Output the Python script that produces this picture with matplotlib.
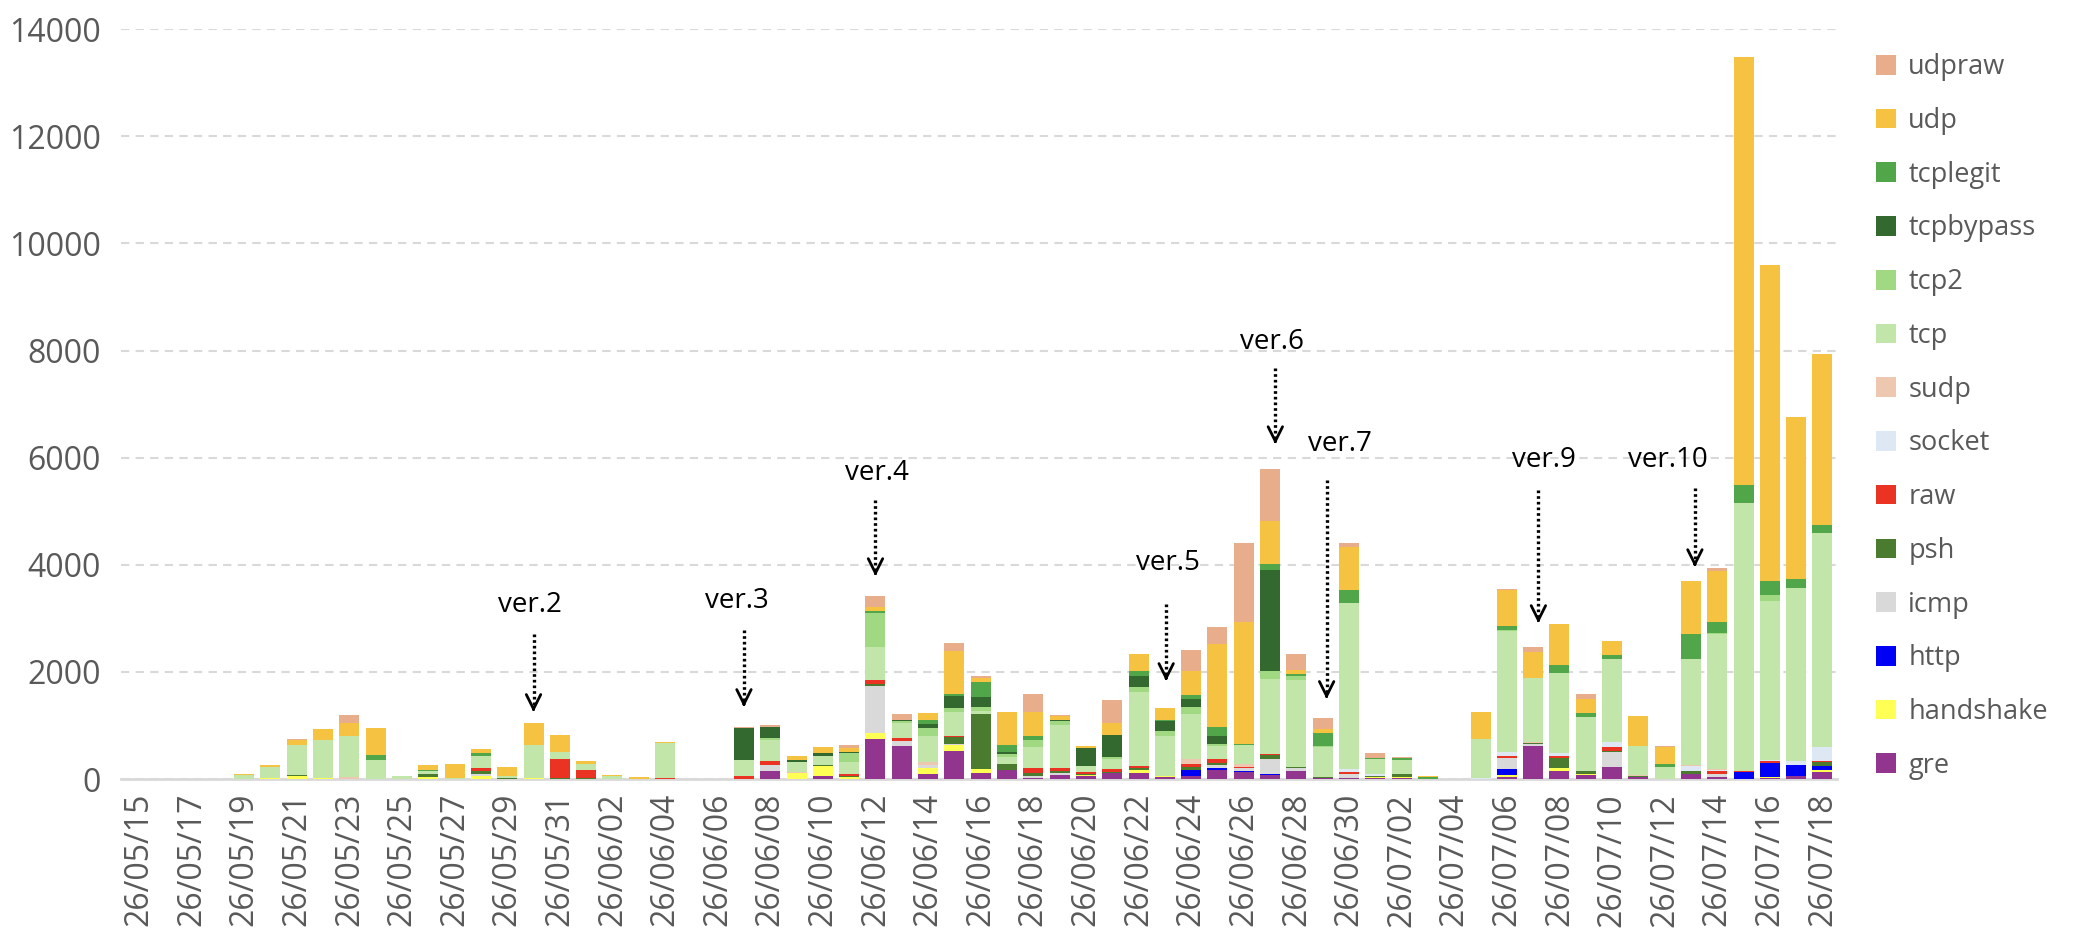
import matplotlib
matplotlib.use("Agg")
import matplotlib.pyplot as plt
import pandas as pd

plt.rcParams['font.family'] = ['Open Sans', 'DejaVu Sans']

# days 26/05/15 .. 26/07/18
dates = pd.date_range('2026-05-15', '2026-07-18').strftime('%y/%m/%d').tolist()

# values per day, rows of ten days
gre = [0, 0, 0, 0, 0, 0, 0, 0, 0, 0,
       0, 0, 0, 0, 0, 0, 0, 0, 0, 0,
       0, 0, 0, 0, 149, 0, 56, 0, 746, 616,
       93, 522, 112, 168, 19, 75, 56, 112, 112, 37,
       56, 168, 131, 75, 149, 19, 19, 19, 19, 0,
       0, 0, 37, 616, 149, 75, 224, 37, 0, 93,
       37, 0, 25, 57, 131]
handshake = [0, 0, 0, 0, 0, 25, 62, 25, 0, 0,
             0, 44, 0, 56, 0, 25, 0, 0, 0, 0,
             0, 0, 0, 0, 0, 112, 187, 37, 112, 0,
             112, 112, 75, 0, 0, 0, 19, 0, 56, 19,
             0, 0, 0, 0, 0, 0, 0, 19, 19, 0,
             0, 0, 37, 0, 56, 19, 0, 0, 0, 0,
             0, 0, 19, 0, 37]
http = [0, 0, 0, 0, 0, 0, 0, 0, 0, 0,
        0, 0, 0, 0, 0, 0, 0, 0, 0, 0,
        0, 0, 0, 0, 0, 0, 0, 0, 0, 0,
        0, 0, 0, 0, 0, 0, 0, 0, 0, 0,
        112, 37, 19, 25, 0, 0, 0, 0, 0, 0,
        0, 0, 112, 0, 0, 0, 0, 0, 0, 0,
        0, 124, 255, 210, 75]
icmp = [0, 0, 0, 0, 0, 0, 0, 0, 0, 0,
        0, 0, 0, 37, 0, 0, 0, 0, 0, 0,
        0, 0, 0, 0, 112, 0, 0, 0, 877, 93,
        56, 19, 0, 0, 37, 37, 0, 0, 0, 0,
        0, 56, 56, 274, 56, 0, 81, 0, 0, 0,
        0, 0, 205, 37, 0, 0, 280, 0, 0, 0,
        56, 0, 0, 0, 0]
psh = [0, 0, 0, 0, 0, 0, 19, 0, 0, 0,
       0, 56, 0, 50, 25, 0, 25, 25, 0, 0,
       0, 0, 0, 0, 0, 0, 19, 25, 37, 0,
       0, 131, 1026, 112, 56, 37, 25, 19, 44, 0,
       50, 37, 0, 68, 19, 19, 0, 19, 56, 0,
       0, 0, 0, 19, 187, 56, 19, 19, 0, 56,
       0, 0, 0, 0, 75]
raw = [0, 0, 0, 0, 0, 0, 0, 0, 0, 0,
       0, 0, 0, 62, 0, 0, 348, 143, 0, 0,
       25, 0, 0, 56, 75, 0, 0, 31, 75, 56,
       0, 19, 0, 0, 93, 56, 31, 56, 31, 0,
       62, 75, 19, 25, 0, 0, 31, 0, 0, 0,
       0, 0, 37, 0, 37, 0, 75, 0, 0, 0,
       56, 29, 37, 0, 19]
socket = [0, 0, 0, 0, 0, 0, 0, 0, 0, 0,
          0, 0, 0, 0, 0, 0, 0, 0, 0, 0,
          0, 0, 0, 0, 0, 0, 0, 0, 0, 0,
          0, 0, 0, 0, 0, 0, 0, 0, 0, 0,
          0, 0, 0, 0, 0, 0, 56, 37, 0, 0,
          0, 19, 75, 0, 56, 0, 93, 0, 0, 93,
          19, 0, 19, 67, 261]
sudp = [0, 0, 0, 0, 0, 0, 0, 0, 37, 0,
        0, 0, 0, 0, 0, 0, 0, 0, 0, 0,
        0, 0, 0, 0, 0, 19, 0, 0, 0, 0,
        56, 0, 0, 0, 0, 0, 0, 0, 0, 0,
        93, 0, 56, 0, 0, 0, 0, 0, 0, 0,
        0, 0, 0, 19, 0, 0, 0, 19, 0, 19,
        19, 0, 0, 0, 0]
tcp = [0, 0, 0, 0, 80, 205, 560, 709, 771, 361,
       62, 56, 25, 224, 25, 610, 131, 118, 56, 0,
       647, 0, 0, 299, 392, 187, 168, 224, 616, 280,
       485, 448, 56, 131, 392, 802, 112, 187, 1381, 746,
       840, 243, 355, 1400, 1623, 560, 3098, 274, 261, 0,
       0, 728, 2258, 1194, 1493, 1008, 1549, 541, 224, 1978,
       2519, 4997, 2960, 3237, 4000]
tcp2 = [0, 0, 0, 0, 0, 0, 0, 0, 0, 0,
        0, 0, 0, 0, 0, 0, 0, 0, 0, 0,
        0, 0, 0, 0, 37, 0, 0, 168, 634, 37,
        149, 75, 75, 56, 131, 75, 0, 37, 93, 93,
        131, 37, 0, 149, 75, 19, 0, 0, 0, 0,
        0, 0, 19, 0, 0, 0, 0, 0, 0, 0,
        19, 0, 115, 0, 0]
tcpbypass = [0, 0, 0, 0, 0, 0, 0, 0, 0, 0,
             0, 0, 0, 0, 0, 0, 0, 0, 0, 0,
             0, 0, 0, 597, 205, 37, 56, 19, 0, 19,
             75, 224, 187, 37, 0, 19, 336, 410, 205, 187,
             149, 149, 0, 1885, 0, 0, 0, 0, 0, 0,
             0, 0, 0, 0, 0, 0, 0, 0, 0, 0,
             0, 0, 0, 0, 0]
tcplegit = [0, 0, 0, 0, 0, 0, 0, 0, 0, 93,
            0, 19, 0, 56, 0, 0, 0, 0, 0, 0,
            0, 0, 0, 0, 0, 0, 0, 0, 37, 0,
            75, 37, 280, 131, 75, 0, 0, 0, 93, 19,
            75, 168, 19, 112, 37, 243, 243, 25, 37, 37,
            0, 0, 75, 0, 149, 75, 75, 0, 56, 466,
            205, 334, 276, 162, 152]
udp = [0, 0, 0, 0, 20, 37, 93, 205, 243, 504,
       0, 93, 261, 75, 168, 411, 317, 50, 19, 37,
       25, 0, 0, 0, 0, 75, 112, 75, 75, 0,
       131, 802, 75, 616, 448, 81, 37, 224, 317, 224,
       448, 1549, 2277, 802, 75, 75, 802, 0, 0, 19,
       0, 504, 672, 485, 765, 261, 261, 560, 317, 989,
       952, 8006, 5883, 3027, 3189]
udpraw = [0, 0, 0, 0, 0, 0, 19, 0, 149, 0,
          0, 0, 0, 0, 0, 0, 0, 0, 0, 0,
          0, 0, 0, 19, 37, 0, 0, 56, 205, 112,
          0, 149, 37, 0, 336, 19, 0, 429, 0, 0,
          392, 317, 1474, 970, 299, 205, 75, 93, 19, 0,
          0, 0, 19, 93, 0, 93, 0, 0, 19, 0,
          56, 0, 0, 0, 0]

names = ['gre', 'handshake', 'http', 'icmp', 'psh', 'raw', 'socket', 'sudp',
         'tcp', 'tcp2', 'tcpbypass', 'tcplegit', 'udp', 'udpraw']
series = [gre, handshake, http, icmp, psh, raw, socket, sudp,
          tcp, tcp2, tcpbypass, tcplegit, udp, udpraw]
colors = ['#92358F', '#FFFF54', '#0000F5', '#D9D9D9', '#4B7B2F', '#EA3323',
          '#DEE8F4', '#EDC7B0', '#C2E5A9', '#A0D982', '#33692E', '#52A64A',
          '#F5C242', '#E8AD8A']

# version marks: label, arrow x (day), text x, text y, arrow start, arrow tip
versions = [
    ('ver.2', 15.0, 14.87, 3246, 2705, 1250),
    ('ver.3', 23.0, 22.74, 3321, 2780, 1343),
    ('ver.4', 28.0, 28.06, 5709, 5205, 3787),
    ('ver.5', 39.05, 39.13, 4030, 3265, 1828),
    ('ver.6', 43.2, 43.08, 8153, 7668, 6250),
    ('ver.7', 45.15, 45.67, 6250, 5578, 1493),
    ('ver.9', 53.2, 53.42, 5951, 5392, 2910),
    ('ver.10', 59.15, 58.14, 5951, 5429, 3955),
]

fig = plt.figure(figsize=(20.78, 9.42), dpi=100)
ax = fig.add_axes([0.058, 0.173, 0.826, 0.796])

x = list(range(len(dates)))
bottom = [0] * len(dates)
handles = []
for name, vals, c in zip(names, series, colors):
    b = ax.bar(x, vals, width=0.76, bottom=bottom, color=c, label=name, zorder=3)
    handles.append(b)
    bottom = [p + q for p, q in zip(bottom, vals)]

for lab, ax_x, tx, ty, y0, y1 in versions:
    ax.text(tx, ty, lab, ha='center', va='center', fontsize=20, color='black', zorder=5)
    ax.plot([ax_x, ax_x], [y0, y1 + 120], color='black', lw=2.4,
            linestyle=(0, (0.8, 0.9)), zorder=5)
    ax.annotate('', xy=(ax_x, y1), xytext=(ax_x, y1 + 80),
                arrowprops=dict(arrowstyle='->', lw=2, color='black',
                                shrinkA=0, shrinkB=0, mutation_scale=26),
                zorder=5)

ax.set_xlim(-0.7, 64.55)
ax.set_ylim(0, 14000)
ax.set_yticks(range(0, 14001, 2000))
ax.set_xticks(x[::2])
ax.set_xticklabels(dates[::2], rotation=90)
ax.tick_params(axis='both', length=0, labelsize=23, colors='#595959')
ax.tick_params(axis='x', pad=10)
ax.tick_params(axis='y', pad=14)
ax.yaxis.grid(True, linestyle=(0, (4, 3)), color='#D9D9D9', lw=1.5)
ax.set_axisbelow(True)
for s in ['top', 'right', 'left']:
    ax.spines[s].set_visible(False)
ax.spines['bottom'].set_color('#D9D9D9')
ax.spines['bottom'].set_linewidth(2)

leg = fig.legend(handles[::-1], names[::-1], loc='center left',
                 bbox_to_anchor=(1876 / 2078, 1 - 416.5 / 942),
                 frameon=False, fontsize=19.5, labelspacing=0.95,
                 handlelength=0.74, handleheight=0.74, handletextpad=0.45,
                 borderpad=0, borderaxespad=0)
for t in leg.get_texts():
    t.set_color('#595959')

plt.savefig('out.png', dpi=100)
